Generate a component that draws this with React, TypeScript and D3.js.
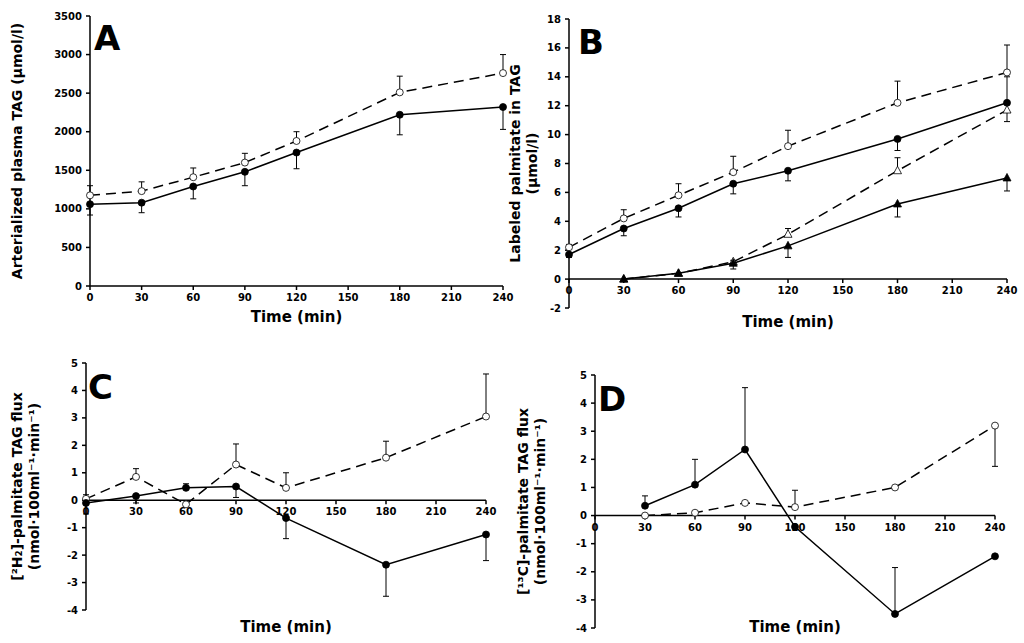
import * as d3 from "d3";

const times = [0, 30, 60, 90, 120, 180, 240];
const timesD = [30, 60, 90, 120, 180, 240];

// panel A
const aOpen = [1175, 1230, 1410, 1600, 1880, 2510, 2760];
const aOpenErr = [125, 120, 120, 120, 120, 210, 240];
const aFilled = [1060, 1080, 1290, 1480, 1730, 2220, 2320];
const aFilledErr = [-140, -130, -160, -180, -210, -260, -290];

// panel B
const bOpen = [2.2, 4.2, 5.8, 7.4, 9.2, 12.2, 14.3];
const bOpenErr = [0.2, 0.6, 0.8, 1.1, 1.1, 1.5, 1.9];
const bFilled = [1.7, 3.5, 4.9, 6.6, 7.5, 9.7, 12.2];
const bFilledErr = [-0.2, -0.5, -0.6, -0.7, -0.7, -0.8, 1.8];
const bOpenTri = [0, 0.4, 1.2, 3.1, 7.5, 11.7];
const bOpenTriErr = [0, 0, 0.1, 0.4, 0.9, -0.8];
const bFilledTri = [0, 0.4, 1.1, 2.3, 5.2, 7.0];
const bFilledTriErr = [0, 0, -0.4, -0.8, -0.9, -0.9];

// panel C
const cOpen = [0.05, 0.85, -0.15, 1.3, 0.45, 1.55, 3.05];
const cOpenErr = [0.15, 0.3, 0, 0.75, 0.55, 0.6, 1.55];
const cFilled = [-0.1, 0.15, 0.45, 0.5, -0.65, -2.35, -1.25];
const cFilledErr = [-0.4, -0.25, 0.15, -0.4, -0.75, -1.15, -0.95];

// panel D
const dOpen = [0, 0.1, 0.45, 0.3, 1.0, 3.2];
const dOpenErr = [0, 0, 0, 0.6, 0, -1.45];
const dFilled = [0.35, 1.1, 2.35, -0.4, -3.5, -1.45];
const dFilledErr = [0.35, 0.9, 2.2, 0, 1.65, 0];

const xTicks = [0, 30, 60, 90, 120, 150, 180, 210, 240];
const font = "'DejaVu Sans', Verdana, sans-serif";

type Series = {
  x: number[];
  y: number[];
  err: number[];
  marker: "circle" | "tri";
  filled: boolean;
  dashed: boolean;
};

type PanelProps = {
  left: number;
  right: number;
  top: number;
  bottom: number;
  yDomain: [number, number];
  yStep: number;
  xAxisAtZero: boolean;
  letter: string;
  letterX: number;
  letterY: number;
  series: Series[];
  yLabel: string[];
  yLabelX: number;
  xTitleY: number;
};

function Panel(p: PanelProps) {
  const x = d3.scaleLinear().domain([0, 240]).range([p.left, p.right]);
  const y = d3.scaleLinear().domain(p.yDomain).range([p.bottom, p.top]);
  const yTicks = d3.range(p.yDomain[0], p.yDomain[1] + p.yStep / 2, p.yStep);
  const axisY = p.xAxisAtZero ? y(0) : p.bottom;
  const midY = (p.top + p.bottom) / 2;
  return (
    <g fontFamily={font} fontWeight="bold">
      <line x1={p.left} x2={p.left} y1={p.top} y2={p.bottom} stroke="#000" strokeWidth={1.5} />
      {yTicks.map((t) => (
        <g key={t}>
          <line x1={p.left - 4} x2={p.left} y1={y(t)} y2={y(t)} stroke="#000" strokeWidth={1.5} />
          <text x={p.left - 8} y={y(t)} dy="0.35em" textAnchor="end" fontSize={10}>
            {t}
          </text>
        </g>
      ))}
      <line x1={p.left} x2={p.right} y1={axisY} y2={axisY} stroke="#000" strokeWidth={1.5} />
      {xTicks.map((t) => (
        <g key={t}>
          <line x1={x(t)} x2={x(t)} y1={axisY} y2={axisY + 4} stroke="#000" strokeWidth={1.5} />
          <text x={x(t)} y={axisY + 15} textAnchor="middle" fontSize={10}>
            {t}
          </text>
        </g>
      ))}
      {p.series.map((s, i) => {
        const line = d3
          .line<number>()
          .x((_, j) => x(s.x[j]))
          .y((v) => y(v));
        return (
          <g key={i}>
            {s.y.map((v, j) =>
              s.err[j] !== 0 ? (
                <g key={j} stroke="#000" strokeWidth={1}>
                  <line x1={x(s.x[j])} x2={x(s.x[j])} y1={y(v)} y2={y(v + s.err[j])} />
                  <line x1={x(s.x[j]) - 3} x2={x(s.x[j]) + 3} y1={y(v + s.err[j])} y2={y(v + s.err[j])} />
                </g>
              ) : null
            )}
            <path
              d={line(s.y) || ""}
              fill="none"
              stroke="#000"
              strokeWidth={1.5}
              strokeDasharray={s.dashed ? "10,6" : undefined}
            />
            {s.y.map((v, j) => {
              const cx = x(s.x[j]);
              const cy = y(v);
              const fill = s.filled ? "#000" : "#fff";
              return s.marker === "circle" ? (
                <circle key={j} cx={cx} cy={cy} r={3.5} fill={fill} stroke="#000" strokeWidth={0.8} />
              ) : (
                <path
                  key={j}
                  d={`M${cx},${cy - 4.5}L${cx + 4},${cy + 3}L${cx - 4},${cy + 3}Z`}
                  fill={fill}
                  stroke="#000"
                  strokeWidth={0.8}
                />
              );
            })}
          </g>
        );
      })}
      <text x={p.letterX} y={p.letterY} fontSize={34} fontWeight={900}>
        {p.letter}
      </text>
      <text x={(p.left + p.right) / 2} y={p.xTitleY} textAnchor="middle" fontSize={15}>
        Time (min)
      </text>
      <text
        transform={`translate(${p.yLabelX},${midY}) rotate(-90)`}
        textAnchor="middle"
        fontSize={14}
      >
        {p.yLabel.map((l, i) => (
          <tspan key={i} x={0} dy={i === 0 ? 0 : 17}>
            {l}
          </tspan>
        ))}
      </text>
    </g>
  );
}

export default function App() {
  return (
    <svg width={1024} height={643} style={{ position: "absolute", left: 0, top: 0, background: "#fff" }}>
      <Panel
        left={90} right={503} top={16} bottom={286}
        yDomain={[0, 3500]} yStep={500} xAxisAtZero={false}
        letter="A" letterX={94} letterY={50}
        yLabel={["Arterialized plasma TAG (µmol/l)"]} yLabelX={22} xTitleY={322}
        series={[
          { x: times, y: aOpen, err: aOpenErr, marker: "circle", filled: false, dashed: true },
          { x: times, y: aFilled, err: aFilledErr, marker: "circle", filled: true, dashed: false },
        ]}
      />
      <Panel
        left={569} right={1007} top={19} bottom={308}
        yDomain={[-2, 18]} yStep={2} xAxisAtZero={true}
        letter="B" letterX={578} letterY={54}
        yLabel={["Labeled palmitate in TAG", "(µmol/l)"]} yLabelX={520} xTitleY={327}
        series={[
          { x: times, y: bOpen, err: bOpenErr, marker: "circle", filled: false, dashed: true },
          { x: times, y: bFilled, err: bFilledErr, marker: "circle", filled: true, dashed: false },
          { x: timesD, y: bOpenTri, err: bOpenTriErr, marker: "tri", filled: false, dashed: true },
          { x: timesD, y: bFilledTri, err: bFilledTriErr, marker: "tri", filled: true, dashed: false },
        ]}
      />
      <Panel
        left={86} right={486} top={363} bottom={610}
        yDomain={[-4, 5]} yStep={1} xAxisAtZero={true}
        letter="C" letterX={88} letterY={399}
        yLabel={["[²H₂]-palmitate TAG flux", "(nmol·100ml⁻¹·min⁻¹)"]} yLabelX={22} xTitleY={632}
        series={[
          { x: times, y: cOpen, err: cOpenErr, marker: "circle", filled: false, dashed: true },
          { x: times, y: cFilled, err: cFilledErr, marker: "circle", filled: true, dashed: false },
        ]}
      />
      <Panel
        left={595} right={995} top={375} bottom={628}
        yDomain={[-4, 5]} yStep={1} xAxisAtZero={true}
        letter="D" letterX={598} letterY={411}
        yLabel={["[¹³C]-palmitate TAG flux", "(nmol·100ml⁻¹·min⁻¹)"]} yLabelX={528} xTitleY={632}
        series={[
          { x: timesD, y: dOpen, err: dOpenErr, marker: "circle", filled: false, dashed: true },
          { x: timesD, y: dFilled, err: dFilledErr, marker: "circle", filled: true, dashed: false },
        ]}
      />
    </svg>
  );
}
